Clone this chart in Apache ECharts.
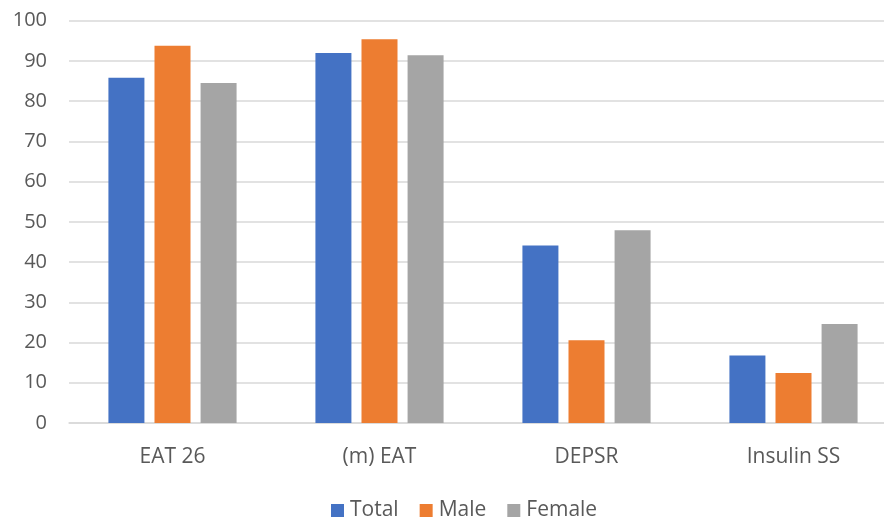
<!DOCTYPE html>
<html>
<head>
<meta charset="utf-8">
<script src="https://cdn.jsdelivr.net/npm/echarts@6/dist/echarts.min.js"></script>
<style>
  html, body { margin: 0; padding: 0; background: #fff; overflow: hidden; }
  #chart { width: 884px; height: 518px; }
</style>
</head>
<body>
<div id="chart"></div>
<script>
const categories = ['EAT 26', '(m) EAT', 'DEPSR', 'Insulin SS'];
const totalValues = [85.8, 92.0, 44.1, 16.8];
const maleValues = [93.8, 95.4, 20.6, 12.4];
const femaleValues = [84.5, 91.4, 47.9, 24.6];
const yTicks = [0, 10, 20, 30, 40, 50, 60, 70, 80, 90, 100];

const textColor = '#595959';
const fontFamily = '"Open Sans", "Liberation Sans", sans-serif';

const chart = echarts.init(document.getElementById('chart'));
chart.setOption({
  animation: false,
  textStyle: { fontFamily: fontFamily },
  // the plot area runs a little past the right edge of the canvas
  grid: {
    left: 69, width: 828, top: 20.7, bottom: 95,
    containLabel: false,
    outerBoundsMode: 'none'
  },
  legend: {
    top: 495,
    left: 326,
    itemWidth: 13,
    itemHeight: 13,
    itemGap: 21,
    icon: 'rect',
    textStyle: { color: textColor, fontSize: 21, fontFamily: fontFamily, padding: [0, 0, 0, 1] }
  },
  xAxis: {
    type: 'category',
    data: categories,
    axisLine: { lineStyle: { color: '#d9d9d9', width: 1.5 } },
    axisTick: { show: false },
    axisLabel: { color: textColor, fontSize: 21, margin: 24 }
  },
  yAxis: {
    type: 'value',
    min: yTicks[0],
    max: yTicks[yTicks.length - 1],
    interval: 10,
    axisLine: { show: false },
    axisTick: { show: false },
    axisLabel: { color: textColor, fontSize: 20, margin: 22 },
    splitLine: { lineStyle: { color: '#d9d9d9', width: 1.5 } }
  },
  series: [
    { name: 'Total', type: 'bar', data: totalValues, itemStyle: { color: '#4472c4' }, barWidth: 36, barGap: '28%' },
    { name: 'Male', type: 'bar', data: maleValues, itemStyle: { color: '#ed7d31' }, barWidth: 36, barGap: '28%' },
    { name: 'Female', type: 'bar', data: femaleValues, itemStyle: { color: '#a5a5a5' }, barWidth: 36, barGap: '28%' }
  ]
});
</script>
</body>
</html>
